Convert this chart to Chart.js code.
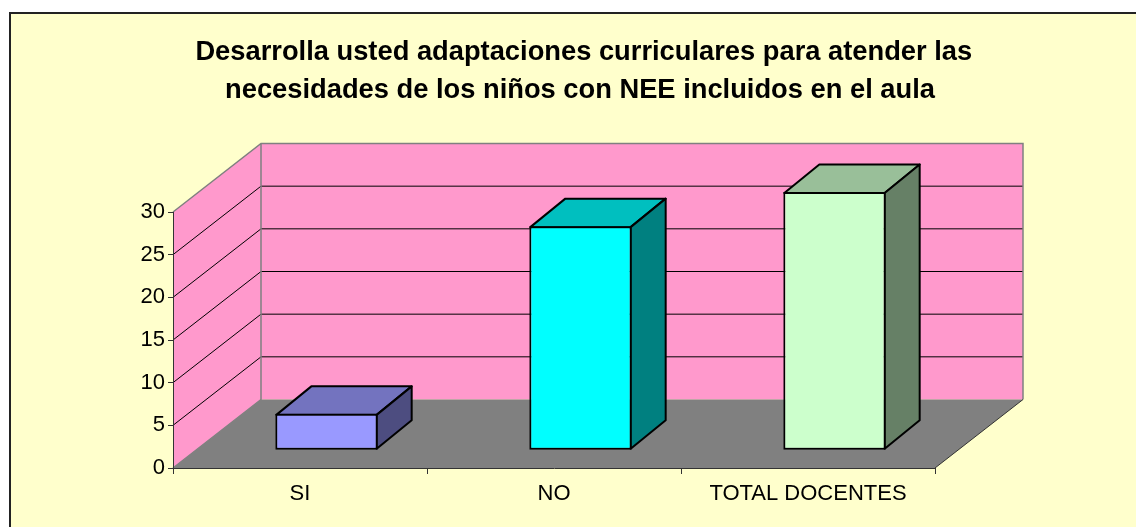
<!DOCTYPE html>
<html>
<head>
<meta charset="utf-8">
<script src="https://cdn.jsdelivr.net/npm/chart.js@4"></script>
<style>
  html, body { margin: 0; padding: 0; background: #fff; }
  canvas { display: block; }
</style>
</head>
<body>
<canvas id="grafico" width="1136" height="527"></canvas>
<script>
const categorias = ['SI', 'NO', 'TOTAL DOCENTES'];
const valores = [4, 26, 30];
const ticksY = [0, 5, 10, 15, 20, 25, 30];
const colorFrente = ['#9999ff', '#00ffff', '#ccffcc'];
const colorTapa = ['#7373bf', '#00bfbf', '#99bf99'];
const colorLado = ['#4d4d80', '#008080', '#668066'];

// profundidad del "3D": pared del fondo y barra
const fondoX = 88, fondoY = 68.5;
const barraX = 35, barraY = 28.5;
const corrX = (fondoX - barraX) / 2, corrY = (fondoY - barraY) / 2;

const poly = (ctx, pts, fill, stroke, lw) => {
    ctx.beginPath();
    pts.forEach((p, i) => i ? ctx.lineTo(p[0], p[1]) : ctx.moveTo(p[0], p[1]));
    ctx.closePath();
    if (fill) { ctx.fillStyle = fill; ctx.fill(); }
    if (stroke) { ctx.strokeStyle = stroke; ctx.lineWidth = lw; ctx.stroke(); }
};

const escena3d = {
    id: 'escena3d',
    afterLayout(chart) {
        // el titulo va centrado sobre el marco, no sobre el area de ejes
        chart.titleBlock.left = 24;
        chart.titleBlock.right = 1136;
    },
    beforeDraw(chart) {
        const { ctx, width, height } = chart;
        ctx.save();
        ctx.fillStyle = '#ffffcc';
        ctx.fillRect(10, 13, width - 10, height - 13);
        ctx.strokeStyle = '#222';
        ctx.lineWidth = 2;
        ctx.beginPath();
        ctx.moveTo(10, height);
        ctx.lineTo(10, 13);
        ctx.lineTo(width, 13);
        ctx.stroke();
        ctx.restore();
    },
    beforeDatasetsDraw(chart) {
        const { ctx, chartArea: a, scales } = chart;
        const l = a.left, r = a.right, t = a.top, b = a.bottom;
        ctx.save();
        // paredes y piso
        poly(ctx, [[l, b], [l, t], [l + fondoX, t - fondoY], [l + fondoX, b - fondoY]], '#ff99cc');
        poly(ctx, [[l + fondoX, t - fondoY], [r + fondoX, t - fondoY], [r + fondoX, b - fondoY], [l + fondoX, b - fondoY]], '#ff99cc');
        poly(ctx, [[l, b], [l + fondoX, b - fondoY], [r + fondoX, b - fondoY], [r, b]], '#808080');
        // rejilla
        ctx.lineWidth = 1;
        ctx.strokeStyle = '#000';
        ticksY.slice(1, -1).forEach(v => {
            const y = scales.y.getPixelForValue(v);
            ctx.beginPath();
            ctx.moveTo(l, y);
            ctx.lineTo(l + fondoX, y - fondoY);
            ctx.lineTo(r + fondoX, y - fondoY);
            ctx.stroke();
        });
        // bordes grises
        ctx.strokeStyle = '#808080';
        ctx.lineWidth = 1.5;
        ctx.beginPath();
        ctx.moveTo(l, t);
        ctx.lineTo(l + fondoX, t - fondoY);
        ctx.lineTo(r + fondoX, t - fondoY);
        ctx.lineTo(r + fondoX, b - fondoY);
        ctx.moveTo(l + fondoX, t - fondoY);
        ctx.lineTo(l + fondoX, b - fondoY);
        ctx.lineTo(l, b);
        ctx.stroke();
        ctx.strokeStyle = '#333';
        ctx.lineWidth = 1;
        ctx.beginPath();
        ctx.moveTo(r, b);
        ctx.lineTo(r + fondoX, b - fondoY);
        ctx.stroke();
        ctx.restore();
    },
    beforeDatasetDraw(chart) {
        const { ctx } = chart;
        ctx.save();
        chart.getDatasetMeta(0).data.forEach((bar, i) => {
            const x0 = bar.x - bar.width / 2 + corrX, x1 = bar.x + bar.width / 2 + corrX;
            const yT = bar.y - corrY, yB = bar.base - corrY;
            ctx.lineJoin = 'round';
            poly(ctx, [[x0 + 1, yT + 1], [x0 + 1 + barraX, yT + 1 - barraY], [x1 - 1 + barraX, yT + 1 - barraY], [x1 - 1, yT + 1]], colorTapa[i], '#000', 2);
            poly(ctx, [[x1 - 1, yT + 1], [x1 - 1 + barraX, yT + 1 - barraY], [x1 - 1 + barraX, yB - 1 - barraY], [x1 - 1, yB - 1]], colorLado[i], '#000', 2);
        });
        ctx.restore();
        // la barra frontal la pinta Chart.js, corrida al plano del piso
        ctx.save();
        ctx.translate(corrX, -corrY);
    },
    afterDatasetDraw(chart) {
        chart.ctx.restore();
    }
};

new Chart(document.getElementById('grafico'), {
    type: 'bar',
    data: {
        labels: categorias,
        datasets: [{
            data: valores,
            base: -0.2,
            backgroundColor: colorFrente,
            borderColor: '#000',
            borderWidth: 2,
            borderSkipped: false,
            barPercentage: 0.403,
            categoryPercentage: 1,
            clip: false
        }]
    },
    plugins: [escena3d],
    options: {
        responsive: false,
        animation: false,
        layout: { padding: { left: 133, right: 201, top: 0, bottom: 0 } },
        plugins: {
            legend: { display: false },
            tooltip: { enabled: false },
            title: {
                display: true,
                text: [' Desarrolla usted adaptaciones curriculares para atender las',
                       'necesidades de los niños con NEE incluidos en el aula'],
                color: '#000',
                font: { family: '"Liberation Sans"', size: 27.3, weight: 'bold', lineHeight: 1.392 },
                padding: { top: 33, bottom: 103 }
            }
        },
        scales: {
            x: {
                afterFit: s => { s.height = 59; },
                grid: { drawOnChartArea: false, color: '#333', tickLength: 6, z: 1 },
                border: { color: '#333', z: 1 },
                ticks: { color: '#000', font: { family: '"Liberation Sans"', size: 22 }, padding: 7, maxRotation: 0 }
            },
            y: {
                min: 0, max: 30,
                afterBuildTicks: s => { s.ticks = ticksY.map(v => ({ value: v })); },
                afterFit: s => { s.width = 40; },
                grid: { drawOnChartArea: false, color: '#333', tickLength: 5, z: 1 },
                border: { color: '#333', z: 1 },
                ticks: { color: '#000', font: { family: '"Liberation Sans"', size: 22 }, padding: 3 }
            }
        }
    }
});
</script>
</body>
</html>
